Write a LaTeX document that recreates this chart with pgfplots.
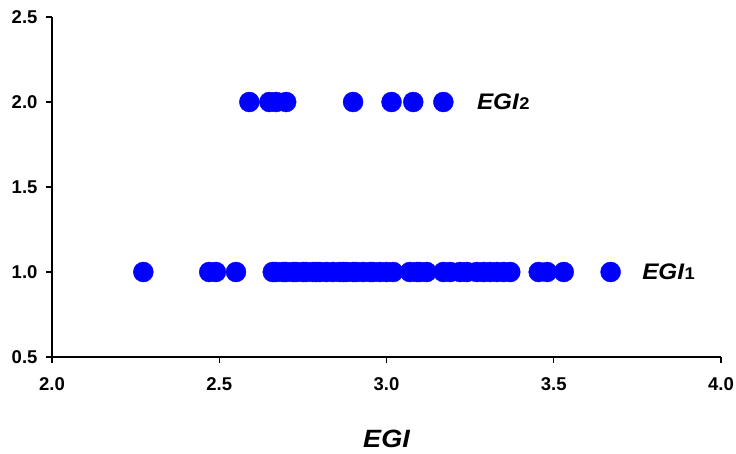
\documentclass[border=0pt]{standalone}
\usepackage{pgfplots}
\pgfplotsset{compat=1.18}
\usepackage{fontspec}
\setmainfont{Liberation Sans}
\newfontfamily\widefont[FakeStretch=1.08]{Liberation Sans}
\definecolor{dotblue}{RGB}{0,0,255}
\begin{document}
\begin{tikzpicture}
\begin{axis}[
  scale only axis,
  width=669pt, height=340pt,
  xmin=2, xmax=4, ymin=0.5, ymax=2.5,
  axis x line*=bottom, axis y line*=left,
  axis line style={line width=1.6pt},
  xtick={2,2.5,3,3.5,4}, ytick={0.5,1,1.5,2,2.5},
  tick style={line width=1.4pt, black},
  major tick length=6pt,
  tick align=outside,
  tick label style={font=\fontsize{18.5}{18.5}\selectfont\bfseries},
  xticklabel style={yshift=-11pt},
  yticklabel style={xshift=-5pt},
  /pgf/number format/assume math mode=true,
  /pgf/number format/fixed, /pgf/number format/fixed zerofill, /pgf/number format/precision=1,
  xlabel={\widefont\fontsize{25}{25}\selectfont\bfseries\itshape EGI},
  xlabel style={yshift=-33pt},
  clip=false,
]
\addplot[only marks, color=dotblue, mark=*, mark size=10pt, mark options={draw=none, fill=dotblue}] coordinates {
(2.273,1)(2.47,1)(2.49,1)(2.55,1)
(2.66,1)(2.67,1)(2.69,1)(2.70,1)(2.72,1)(2.73,1)(2.75,1)(2.76,1)(2.78,1)(2.79,1)
(2.80,1)(2.82,1)(2.84,1)(2.86,1)(2.87,1)(2.88,1)(2.90,1)(2.91,1)(2.93,1)(2.95,1)
(2.96,1)(2.98,1)(3.00,1)(3.02,1)(3.07,1)(3.09,1)(3.10,1)(3.12,1)(3.17,1)(3.19,1)
(3.22,1)(3.24,1)(3.27,1)(3.29,1)(3.31,1)(3.33,1)(3.35,1)(3.37,1)
(3.455,1)(3.48,1)(3.53,1)(3.67,1)
};
\addplot[only marks, color=dotblue, mark=*, mark size=10pt, mark options={draw=none, fill=dotblue}] coordinates {
(2.59,2)(2.65,2)(2.67,2)(2.70,2)(2.90,2)(3.015,2)(3.08,2)(3.17,2)
};
\node[anchor=west, inner sep=0pt, font=\widefont\fontsize{22.5}{22.5}\selectfont\bfseries\itshape] at (axis cs:3.27,2) {EGI\kern0.5pt\fontsize{17}{17}\selectfont\upshape 2};
\node[anchor=west, inner sep=0pt, font=\widefont\fontsize{22.5}{22.5}\selectfont\bfseries\itshape] at (axis cs:3.764,1) {EGI\kern0.5pt\fontsize{17}{17}\selectfont\upshape 1};
\end{axis}
\pgfresetboundingbox
\path[use as bounding box] (current axis.south west) ++(-52pt,-96pt) rectangle ([shift={(15pt,17pt)}]current axis.north east);
\end{tikzpicture}
\end{document}
